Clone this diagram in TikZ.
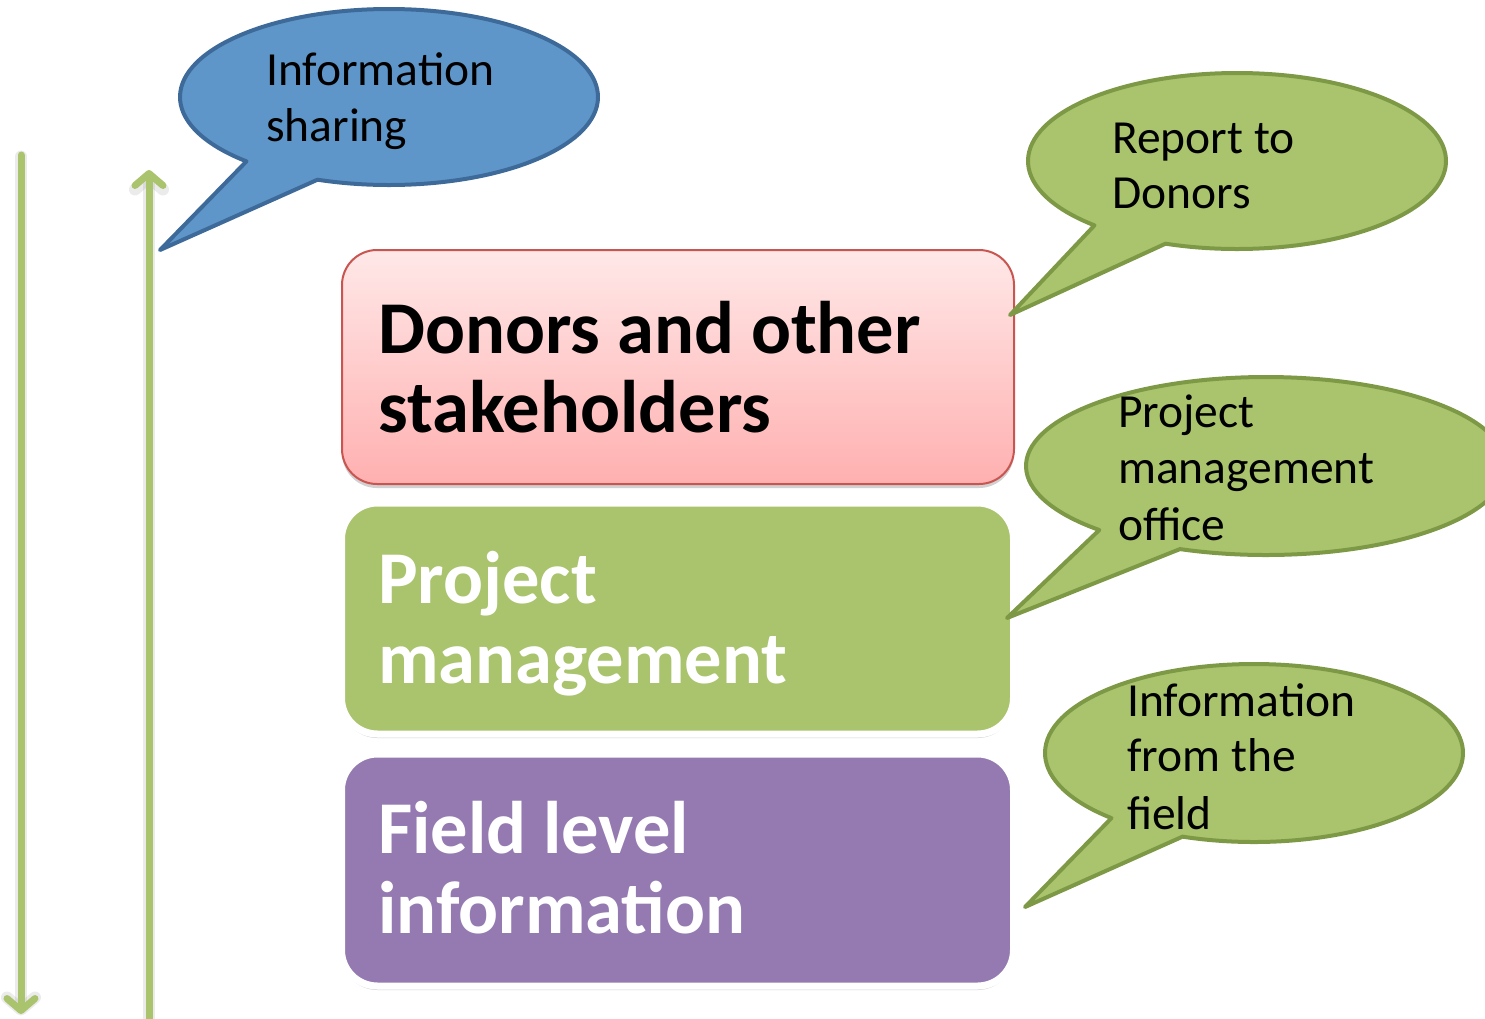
\documentclass[tikz,border=0pt]{standalone}
\usepackage{fontspec}
\setmainfont{Carlito}
\usetikzlibrary{arrows.meta,shadows}
\definecolor{arrowgreen}{RGB}{169,196,108}
\definecolor{callgreen}{RGB}{169,196,108}
\definecolor{callgreenedge}{RGB}{125,153,70}
\definecolor{callblue}{RGB}{95,150,201}
\definecolor{callblueedge}{RGB}{62,106,154}
\definecolor{pinktop}{RGB}{255,232,232}
\definecolor{pinkbot}{RGB}{255,176,176}
\definecolor{pinkedge}{RGB}{200,85,80}
\definecolor{boxgreen}{RGB}{169,196,108}
\definecolor{boxpurple}{RGB}{148,122,177}
\tikzset{
  flowline/.style={draw=arrowgreen, line width=7pt, line cap=round,
     -{Straight Barb[length=12pt,width=28pt,round]}},
  flowshade/.style={draw=black, opacity=0.08, line width=12pt, line cap=round,
     -{Straight Barb[length=12pt,width=28pt,round]}},
  greencall/.style={fill=callgreen, draw=callgreenedge, line width=4pt, line join=round},
  bluecall/.style={fill=callblue, draw=callblueedge, line width=4pt, line join=round},
  ctext/.style={anchor=base west, inner sep=0pt, font=\fontsize{47.5}{57}\selectfont},
  btext/.style={anchor=base west, inner sep=0pt, font=\fontsize{74.5}{80}\selectfont\bfseries},
  boxshadow/.style={drop shadow={shadow xshift=0pt, shadow yshift=-4pt, opacity=0.18, fill=black}},
}
\begin{document}
\begin{tikzpicture}[x=1pt,y=-1pt]
\useasboundingbox (0,0) rectangle (1485,1018);

% vertical arrows
\coordinate (downtop) at (21,155);
\coordinate (downbot) at (21,1014);
\coordinate (uptop) at (149,170);
\coordinate (upbot) at (149,1025);
\draw[flowshade, transform canvas={yshift=-1.5pt}] (downtop) -- (downbot);
\draw[flowshade, transform canvas={yshift=-1.5pt}] (upbot) -- (uptop);
\draw[flowline] (downtop) -- (downbot);
\draw[flowline] (upbot) -- (uptop);

% boxes
\path[boxshadow, rounded corners=35pt, draw=pinkedge, line width=2pt,
      top color=pinktop, bottom color=pinkbot]
  (342,250) rectangle (1014,484);
\path[boxshadow, rounded corners=36pt, draw=white, line width=7pt, fill=boxgreen]
  (341.5,503) rectangle (1013.5,734);
\path[boxshadow, rounded corners=36pt, draw=white, line width=7pt, fill=boxpurple]
  (341.5,754) rectangle (1013.5,986);

\node[btext] (d1) at (378,353) {Donors and other};
\node[btext] (d2) at (378,432) {stakeholders};
\node[btext, text=white] (p1) at (378,603) {Project};
\node[btext, text=white] (p2) at (378,683) {management};
\node[btext, text=white] (f1) at (378,853) {Field level};
\node[btext, text=white] (f2) at (378,933) {information};

% callouts
\path[bluecall] (389,97) ++(133:209 and 88)
  arc[start angle=133, end angle=470, x radius=209, y radius=88] -- (160,250) -- cycle;
\path[greencall] (1237,161) ++(133:209 and 88)
  arc[start angle=133, end angle=470, x radius=209, y radius=88] -- (1010,315) -- cycle;
\path[greencall] (1266,466) ++(134:240 and 89)
  arc[start angle=134, end angle=471, x radius=240, y radius=89] -- (1007,618) -- cycle;
\path[greencall] (1254,753) ++(133:209 and 89)
  arc[start angle=133, end angle=470, x radius=209, y radius=89] -- (1025,907) -- cycle;

\node[ctext] (i1) at (266,85) {Information};
\node[ctext] (i2) at (266,141) {sharing};
\node[ctext] (r1) at (1112,153) {Report to};
\node[ctext] (r2) at (1112,208) {Donors};
\node[ctext] (m1) at (1118,427) {Project};
\node[ctext] (m2) at (1118,483) {management};
\node[ctext] (m3) at (1118,540) {office};
\node[ctext] (n1) at (1127,716) {Information};
\node[ctext] (n2) at (1127,771) {from the};
\node[ctext] (n3) at (1127,829) {field};
\end{tikzpicture}
\end{document}
